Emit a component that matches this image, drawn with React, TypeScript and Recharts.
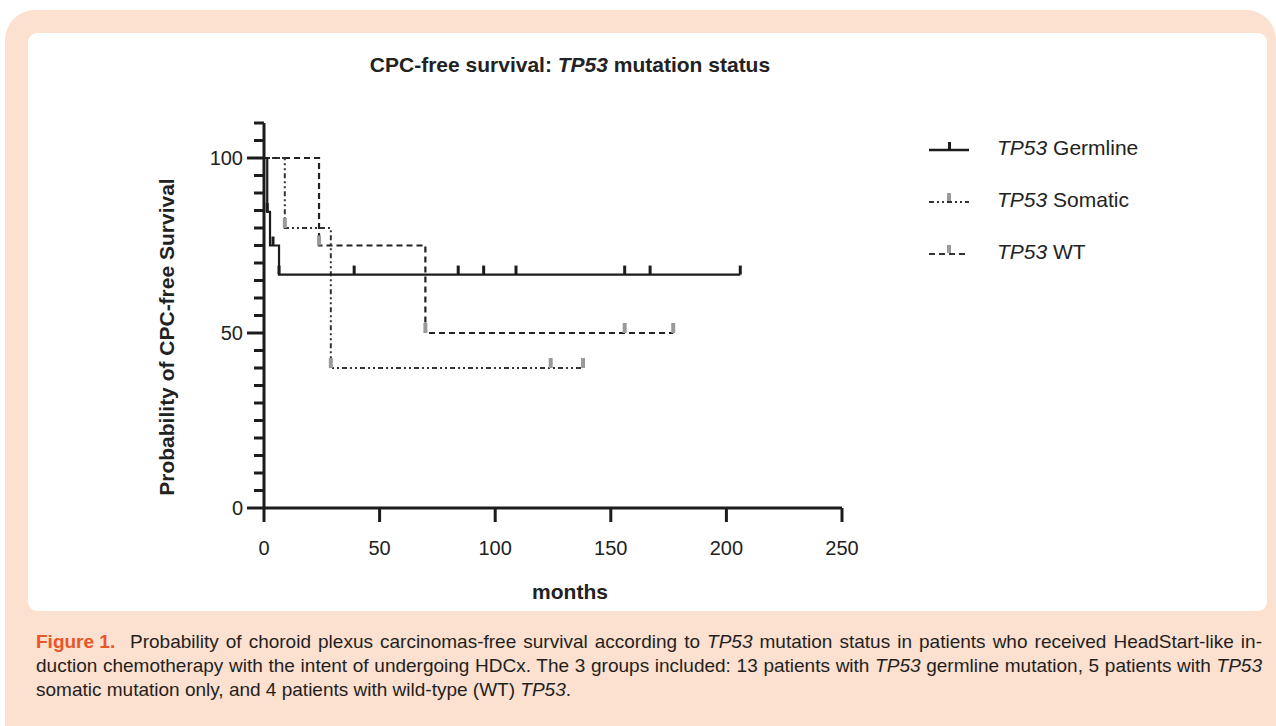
import React from "react";
import {
  ComposedChart,
  Line,
  Scatter,
  XAxis,
  YAxis,
  Legend,
  Label,
} from "recharts";

// Kaplan-Meier step points (months, % CPC-free)
const germlineTime = [0, 1.4, 2.6, 6.5, 206];
const germlineSurv = [100, 84.6, 75, 66.7, 66.7];
const germlineCensor = [1.4, 3.9, 6.5, 39, 84, 95, 109, 156, 167, 206];

const somaticTime = [0, 9, 28.9, 138];
const somaticSurv = [100, 80, 40, 40];
const somaticCensor = [9, 28.9, 124, 138];

const wtTime = [0, 23.8, 69.8, 177];
const wtSurv = [100, 75, 50, 50];
const wtCensor = [23.8, 69.8, 156, 177];

const seriesNames = ["Germline", "Somatic", "WT"];

const xTicks = [0, 50, 100, 150, 200, 250];
const yTicks = [0, 5, 10, 15, 20, 25, 30, 35, 40, 45, 50, 55, 60, 65, 70, 75, 80, 85, 90, 95, 100, 105, 110];
const yMajor = [0, 50, 100];

const FONT = '"Liberation Sans", Arial, Helvetica, sans-serif';
const INK = "#1c1c1c";
const GRAY = "#9a9a9a";

const steps = (t: number[], s: number[]) => t.map((v, i) => ({ t: v, s: s[i] }));
const censors = (c: number[], t: number[], s: number[]) =>
  c.map((v) => {
    let lvl = s[0];
    t.forEach((tt, i) => {
      if (tt <= v) lvl = s[i];
    });
    return { t: v, s: lvl };
  });

const germlineData = steps(germlineTime, germlineSurv);
const somaticData = steps(somaticTime, somaticSurv);
const wtData = steps(wtTime, wtSurv);
const germlineMarks = censors(germlineCensor, germlineTime, germlineSurv);
const somaticMarks = censors(somaticCensor, somaticTime, somaticSurv);
const wtMarks = censors(wtCensor, wtTime, wtSurv);

const BlackMark = (p: any) => (
  <rect x={p.cx - 1.5} y={p.cy - 9} width={3} height={9} fill={INK} />
);
const GrayMark = (p: any) => (
  <rect x={p.cx - 2} y={p.cy - 10} width={4} height={10} fill={GRAY} />
);

const YTick = (p: any) => {
  const { x, y, payload } = p;
  const major = yMajor.includes(payload.value);
  return (
    <g>
      <line x1={x} x2={x - (major ? 17 : 10)} y1={y} y2={y} stroke={INK} strokeWidth={3} />
      {major && (
        <text x={x - 21} y={y} textAnchor="end" dominantBaseline="central" fontSize={20} fill="#222" fontFamily={FONT}>
          {payload.value}
        </text>
      )}
    </g>
  );
};

const dashes = ["", "5 3 2 3 2 3", "6 4"];

const LegendBox = () => (
  <div style={{ fontFamily: FONT, fontSize: 21, color: "#222" }}>
    {seriesNames.map((name, i) => (
      <div key={name} style={{ display: "flex", alignItems: "center", height: 52 }}>
        <svg width={60} height={20}>
          <line
            x1={7}
            x2={47}
            y1={12}
            y2={12}
            stroke={i === 0 ? INK : "#333"}
            strokeWidth={i === 0 ? 2.5 : 2}
            strokeDasharray={dashes[i]}
          />
          <rect x={i === 0 ? 26 : 25} y={i === 0 ? 4 : 3} width={i === 0 ? 3 : 4} height={8} fill={i === 0 ? INK : GRAY} />
        </svg>
        <span style={{ marginLeft: 15 }}>
          <i>TP53</i> {name}
        </span>
      </div>
    ))}
  </div>
);

export default function App() {
  return (
    <div style={{ position: "absolute", left: 0, top: 0, width: 1276, height: 726, overflow: "hidden", background: "#fff" }}>
      <div style={{ position: "absolute", left: 5, top: 10, width: 1271, height: 760, borderRadius: 30, background: "#fce0d0" }} />
      <div style={{ position: "absolute", left: 28, top: 33, width: 1239, height: 578, borderRadius: 9, background: "#fff" }} />
      <div
        style={{
          position: "absolute",
          left: 0,
          top: 53,
          width: 1140,
          textAlign: "center",
          fontFamily: FONT,
          fontWeight: "bold",
          fontSize: 21,
          color: "#222",
        }}
      >
        CPC-free survival: <i>TP53</i> mutation status
      </div>
      <div style={{ position: "absolute", left: 0, top: 0 }}>
        <ComposedChart width={1276} height={726} margin={{ top: 123, right: 434, bottom: 158, left: 204 }}>
          <XAxis
            type="number"
            dataKey="t"
            domain={[0, 250]}
            ticks={xTicks}
            interval={0}
            allowDataOverflow
            axisLine={{ stroke: INK, strokeWidth: 3 }}
            tickLine={{ stroke: INK, strokeWidth: 3 }}
            tickSize={14}
            tickMargin={19}
            tick={{ fill: "#222", fontSize: 20, fontFamily: FONT }}
            height={60}
          >
            <Label
              content={() => (
                <text x={570} y={599} textAnchor="middle" fontSize={21} fontWeight="bold" fontFamily={FONT} fill="#222">
                  months
                </text>
              )}
            />
          </XAxis>
          <YAxis
            type="number"
            dataKey="s"
            domain={[0, 110]}
            ticks={yTicks}
            interval={0}
            axisLine={{ stroke: INK, strokeWidth: 3 }}
            tickLine={false}
            tickSize={0}
            tickMargin={0}
            tick={<YTick />}
            width={60}
          >
            <Label
              content={() => (
                <text
                  x={174}
                  y={337}
                  transform="rotate(-90, 174, 337)"
                  textAnchor="middle"
                  fontSize={21}
                  fontWeight="bold"
                  fontFamily={FONT}
                  fill="#222"
                >
                  Probability of CPC-free Survival
                </text>
              )}
            />
          </YAxis>
          <Legend
            layout="vertical"
            align="center"
            verticalAlign="middle"
            content={<LegendBox />}
            wrapperStyle={{ left: 922, top: 122, width: 320, height: 160 }}
          />
          <Line data={wtData} dataKey="s" type="stepAfter" stroke="#222" strokeWidth={2.2} strokeDasharray="6 4" dot={false} activeDot={false} isAnimationActive={false} />
          <Line data={somaticData} dataKey="s" type="stepAfter" stroke="#333" strokeWidth={2} strokeDasharray="5 3 2 3 2 3" dot={false} activeDot={false} isAnimationActive={false} />
          <Line data={germlineData} dataKey="s" type="stepAfter" stroke={INK} strokeWidth={2.2} dot={false} activeDot={false} isAnimationActive={false} />
          <Scatter data={wtMarks} shape={<GrayMark />} isAnimationActive={false} />
          <Scatter data={somaticMarks} shape={<GrayMark />} isAnimationActive={false} />
          <Scatter data={germlineMarks} shape={<BlackMark />} isAnimationActive={false} />
        </ComposedChart>
      </div>
      <div
        style={{
          position: "absolute",
          left: 36,
          top: 630,
          width: 1226,
          fontFamily: FONT,
          fontSize: 19,
          lineHeight: "24px",
          color: "#231f20",
        }}
      >
        <div style={{ textAlign: "justify", textAlignLast: "justify", whiteSpace: "nowrap" }}>
          <b style={{ color: "#e8562a", display: "inline-block", width: 94, textAlign: "left", textAlignLast: "left" }}>
            Figure 1.
          </b>
          Probability of choroid plexus carcinomas-free survival according to <i>TP53</i> mutation status in patients who received HeadStart-like in-
        </div>
        <div style={{ textAlign: "justify", textAlignLast: "justify", whiteSpace: "nowrap" }}>
          duction chemotherapy with the intent of undergoing HDCx. The 3 groups included: 13 patients with <i>TP53</i> germline mutation, 5 patients with <i>TP53</i>
        </div>
        <div style={{ whiteSpace: "nowrap" }}>
          somatic mutation only, and 4 patients with wild-type (WT) <i>TP53</i>.
        </div>
      </div>
    </div>
  );
}
